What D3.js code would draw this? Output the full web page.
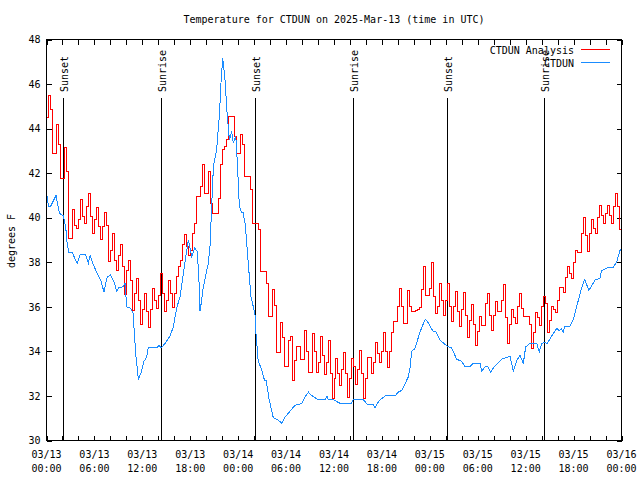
<!DOCTYPE html>
<html><head><meta charset="utf-8">
<script src="https://cdn.jsdelivr.net/npm/d3@7/dist/d3.min.js"></script>
<style>
body{margin:0;background:#fff}
svg{display:block}
text{font-family:"DejaVu Sans Mono",monospace;font-size:10px;fill:#000}
</style></head><body>
<svg id="chart" width="640" height="480"></svg>
<script>
const title = "Temperature for CTDUN on 2025-Mar-13 (time in UTC)";
const yLabel = "degrees F";
const seriesNames = ["CTDUN Analysis", "CTDUN"];
const seriesColors = ["#ff0000", "#1a8cff"];
const yTicks = [30, 32, 34, 36, 38, 40, 42, 44, 46, 48];
const xTickHours = [0, 6, 12, 18, 24, 30, 36, 42, 48, 54, 60, 66, 72];
const xTickDates = ["03/13","03/13","03/13","03/13","03/14","03/14","03/14","03/14","03/15","03/15","03/15","03/15","03/16"];
const xTickTimes = ["00:00","06:00","12:00","18:00","00:00","06:00","12:00","18:00","00:00","06:00","12:00","18:00","00:00"];
const sunHours = [2.1, 14.35, 26.15, 38.4, 50.15, 62.35];
const sunLabels = ["Sunset", "Sunrise", "Sunset", "Sunrise", "Sunset", "Sunrise"];

// CTDUN Analysis: one value every 15 minutes from 03/13 00:00 UTC
const analysisValues = [
 44.5,45.5,44.85,42.87, 42.87,44.2,43.3,41.78, 41.78,43.13,42.07,39.08, 39.08,40.35,39.65,39.5,
 39.9,40.83,40.05,39.72, 40.5,41.1,40.05,39.27, 39.9,40.47,39.6,39.03, 39.6,40.23,39.65,38.03,
 38.55,39.3,38.1,37.65, 38.3,38.82,37.8,36.57, 37.65,38.1,37.2,35.85, 36.6,37.27,36.3,35.2,
 35.9,36.6,35.8,35.05, 35.9,36.83,36.3,35.93, 36.5,37.5,36.6,35.77, 36.3,37.2,36.6,35.95,
 36.6,37.35,37.8,38.1, 38.78,39.23,38.7,38.3, 38.55,39.3,39.75,40.95, 40.95,41.4,42.37,41.1,
 41.1,42.07,40.65,40.2, 40.2,40.2,40.87,42.37, 43.05,43.2,43.5,44.55, 44.55,44.55,43.65,42.87,
 42.87,43.72,43.3,41.85, 41.85,41.85,41.25,39.75, 39.75,39.75,39.45,37.6, 37.6,37.6,37.05,35.55,
 35.55,36.8,36.07,33.97, 33.97,35.3,34.62,33.3, 33.3,34.5,34.65,32.7, 33.6,34.2,34.2,33.65,
 33.65,34.95,34.0,33.03, 33.03,34.8,34.0,33.03, 33.5,34.68,33.8,32.97, 33.5,34.5,33.0,31.87,
 32.8,33.67,33.0,32.47, 33.2,33.97,33.0,31.95, 32.8,33.67,33.3,32.5, 33.2,34.05,33.0,31.88,
 32.8,33.72,33.72,33.0, 33.5,34.4,33.9,33.52, 34.0,34.83,34.0,33.27, 34.0,34.83,35.33,35.33,
 36.0,36.83,36.0,35.25, 35.25,36.72,36.0,35.77, 35.8,35.85,35.9,35.97, 36.8,37.8,36.52,36.52,
 36.83,37.98,36.45,35.7, 36.0,37.05,36.3,35.63, 36.3,37.05,36.0,35.33, 36.0,36.67,35.8,35.1,
 35.9,36.63,35.6,34.62, 35.4,36.12,35.2,34.27, 34.9,35.55,35.17,35.17, 36.15,36.6,35.6,34.95,
 35.6,36.22,35.77,35.77, 36.3,37.02,35.5,34.35, 35.2,35.88,35.5,35.25, 36.0,36.6,35.93,35.58,
 35.58,35.58,35.22,34.13, 34.87,35.73,35.5,35.17, 36.0,36.48,36.15,34.87, 35.4,36.03,35.9,35.73,
 36.3,36.87,36.87,36.63, 37.3,37.83,37.5,37.27, 38.0,38.55,38.43,38.43, 39.3,40.02,39.2,38.47,
 39.3,39.93,39.5,39.27, 40.0,40.53,40.1,39.75, 40.2,40.53,40.1,39.75, 40.5,41.1,40.5,39.45,
 38.92
];
const analysisStepHours = 0.25;

// CTDUN observations: [hours since 03/13 00:00 UTC, degrees F]
const obsSeries = [
 [0,41.15],[0.25,40.5],[0.5,40.5],[1.2,41.0],[1.55,40.3],[1.75,40.15],[2.1,40.1],[2.4,39.6],[2.6,38.8],[2.8,38.45],
 [3.2,38.45],[3.65,38.1],[3.85,37.95],[4.2,38.33],[4.9,38.33],[5.24,37.95],[5.45,38.3],[5.87,37.88],[6.36,37.5],[6.78,37.2],
 [7.2,36.67],[7.6,37.35],[8.03,37.43],[8.45,37.12],[8.79,36.7],[9.08,36.87],[9.58,36.9],[9.83,37.08],[10.04,36.0],[10.54,35.93],
 [10.87,35.7],[10.96,35.03],[11.17,33.9],[11.5,32.75],[11.8,33.0],[12.2,33.55],[12.55,33.75],[12.75,34.17],[13.8,34.17],[14.1,34.27],
 [14.37,34.17],[14.84,34.35],[15.46,34.68],[15.88,35.1],[16.3,35.95],[16.72,36.45],[17.34,38.0],[17.76,39.0],[18.2,38.25],[18.55,38.65],
 [18.85,38.5],[19.06,37.5],[19.22,35.8],[19.43,36.3],[19.64,36.9],[20.26,37.95],[20.47,38.7],[20.68,40.5],[20.9,42.3],[21.3,43.05],
 [21.64,44.55],[21.85,46.05],[22.06,47.18],[22.35,46.2],[22.64,44.55],[22.9,43.5],[23.19,43.87],[23.4,43.35],[23.7,43.65],[23.9,42.45],
 [24.15,40.5],[24.4,40.25],[24.6,40.25],[24.9,39.7],[25.1,38.7],[25.3,37.8],[25.6,36.45],[26.1,35.7],[26.2,34.95],[26.5,33.6],
 [26.95,33.15],[27.3,32.7],[27.5,32.7],[27.9,31.8],[28.4,31.02],[28.95,30.93],[29.45,30.78],[29.87,31.05],[30.4,31.27],[30.9,31.5],
 [31.33,31.62],[31.95,31.65],[32.37,31.95],[32.8,32.17],[33.2,32.02],[34.0,31.83],[34.9,31.83],[35.1,31.99],[35.3,31.83],[35.9,31.83],
 [36.7,31.68],[38.2,31.68],[38.4,31.83],[39.67,31.83],[40.2,31.62],[40.9,31.62],[41.13,31.47],[41.67,31.8],[42.4,32.0],[43.65,32.0],
 [44.05,32.17],[44.5,32.25],[44.9,32.55],[45.3,32.85],[45.5,33.2],[45.73,34.0],[46.14,34.13],[46.77,34.87],[47.4,35.43],[47.6,35.4],
 [48.4,34.9],[48.8,34.87],[49.3,34.5],[49.7,34.38],[50.1,34.25],[50.74,34.15],[51.36,33.65],[52.0,33.55],[52.4,33.3],[53.0,33.3],
 [53.4,33.45],[54.3,33.45],[54.5,33.12],[54.9,33.3],[55.3,33.3],[55.6,33.07],[56.2,33.37],[57.0,33.65],[57.6,33.72],[58.04,33.78],
 [58.46,33.12],[58.9,33.6],[59.3,33.83],[59.7,33.45],[60.0,34.2],[60.5,34.35],[61.4,34.35],[61.7,33.97],[62.0,34.35],[62.4,34.42],
 [62.7,34.35],[63.3,34.72],[63.9,35.03],[64.2,34.92],[64.45,35.03],[64.7,34.87],[64.9,35.1],[65.5,35.1],[66.0,35.48],[66.6,36.3],
 [67.0,36.85],[67.4,37.23],[67.9,36.75],[68.2,36.9],[68.68,37.2],[69.3,37.28],[69.5,37.62],[70.35,37.77],[70.97,37.77],[71.4,38.02],
 [71.8,38.52],[72.0,38.6]
];

const svg = d3.select("#chart");
const x = d3.scaleLinear().domain([0, 72]).range([46.5, 621.5]);
const y = d3.scaleLinear().domain([30, 48]).range([440.5, 39.5]);
const px = v => Math.round(v - 0.5) + 0.5;

// title
svg.append("text").attr("x", 334).attr("y", 23).attr("text-anchor", "middle").text(title);

// y label
svg.append("text").attr("transform", "translate(15,241) rotate(-90)")
  .attr("text-anchor", "middle").text(yLabel);

// ticks
const tickLen = 5;
const minorHours = d3.range(0, 73, 2);
svg.append("g").attr("transform", "translate(0,440.5)")
  .call(d3.axisBottom(x).tickValues(minorHours).tickSize(-tickLen).tickFormat(""))
  .call(g => g.select(".domain").remove());
svg.append("g").attr("transform", "translate(0,39.5)")
  .call(d3.axisTop(x).tickValues(minorHours).tickSize(-tickLen).tickFormat(""))
  .call(g => g.select(".domain").remove());
const gl = svg.append("g").attr("transform", "translate(46.5,0)")
  .call(d3.axisLeft(y).tickValues(yTicks).tickSize(-tickLen).tickPadding(6).tickFormat(d3.format("d")))
  .call(g => g.select(".domain").remove());
gl.attr("font-family", null).attr("font-size", null);
svg.append("g").attr("transform", "translate(621.5,0)")
  .call(d3.axisRight(y).tickValues(yTicks).tickSize(-tickLen).tickFormat(""))
  .call(g => g.select(".domain").remove());
svg.selectAll(".tick line").attr("stroke", "#000").attr("shape-rendering", "crispEdges");

// x tick labels (two lines)
const xl = svg.append("g");
xTickHours.forEach((h, i) => {
  const t = xl.append("text").attr("text-anchor", "middle");
  t.append("tspan").attr("x", x(h)).attr("y", 458).text(xTickDates[i]);
  t.append("tspan").attr("x", x(h)).attr("y", 472).text(xTickTimes[i]);
});

// sunrise / sunset lines
sunHours.forEach((h, i) => {
  svg.append("line").attr("x1", px(x(h))).attr("x2", px(x(h)))
    .attr("y1", 98).attr("y2", 440).attr("stroke", "#000").attr("stroke-width", 1)
    .attr("shape-rendering", "crispEdges");
  svg.append("text").attr("transform", `translate(${px(x(h)) + 4},92) rotate(-90)`)
    .attr("text-anchor", "start").text(sunLabels[i]);
});

// analysis (step) line
const analysisPts = analysisValues.map((v, i) => [i * analysisStepHours, v]);
svg.append("path").datum(analysisPts)
  .attr("fill", "none").attr("stroke", seriesColors[0]).attr("stroke-width", 1)
  .attr("shape-rendering", "crispEdges")
  .attr("d", d3.line().x(d => px(x(d[0]))).y(d => px(y(d[1]))).curve(d3.curveStepAfter));

// observations
svg.append("path").datum(obsSeries)
  .attr("fill", "none").attr("stroke", seriesColors[1]).attr("stroke-width", 1)
  .attr("shape-rendering", "crispEdges")
  .attr("d", d3.line().x(d => x(d[0])).y(d => y(d[1])));

// frame
svg.append("rect").attr("x", 46.5).attr("y", 39.5).attr("width", 575).attr("height", 401)
  .attr("fill", "none").attr("stroke", "#000").attr("shape-rendering", "crispEdges");

// legend
seriesNames.forEach((n, i) => {
  const ly = 49.5 + i * 13;
  svg.append("text").attr("x", 574).attr("y", ly + 4).attr("text-anchor", "end").text(n);
  svg.append("line").attr("x1", 581).attr("x2", 610).attr("y1", ly).attr("y2", ly)
    .attr("stroke", seriesColors[i]).attr("stroke-width", 1).attr("shape-rendering", "crispEdges");
});
</script>
</body></html>
